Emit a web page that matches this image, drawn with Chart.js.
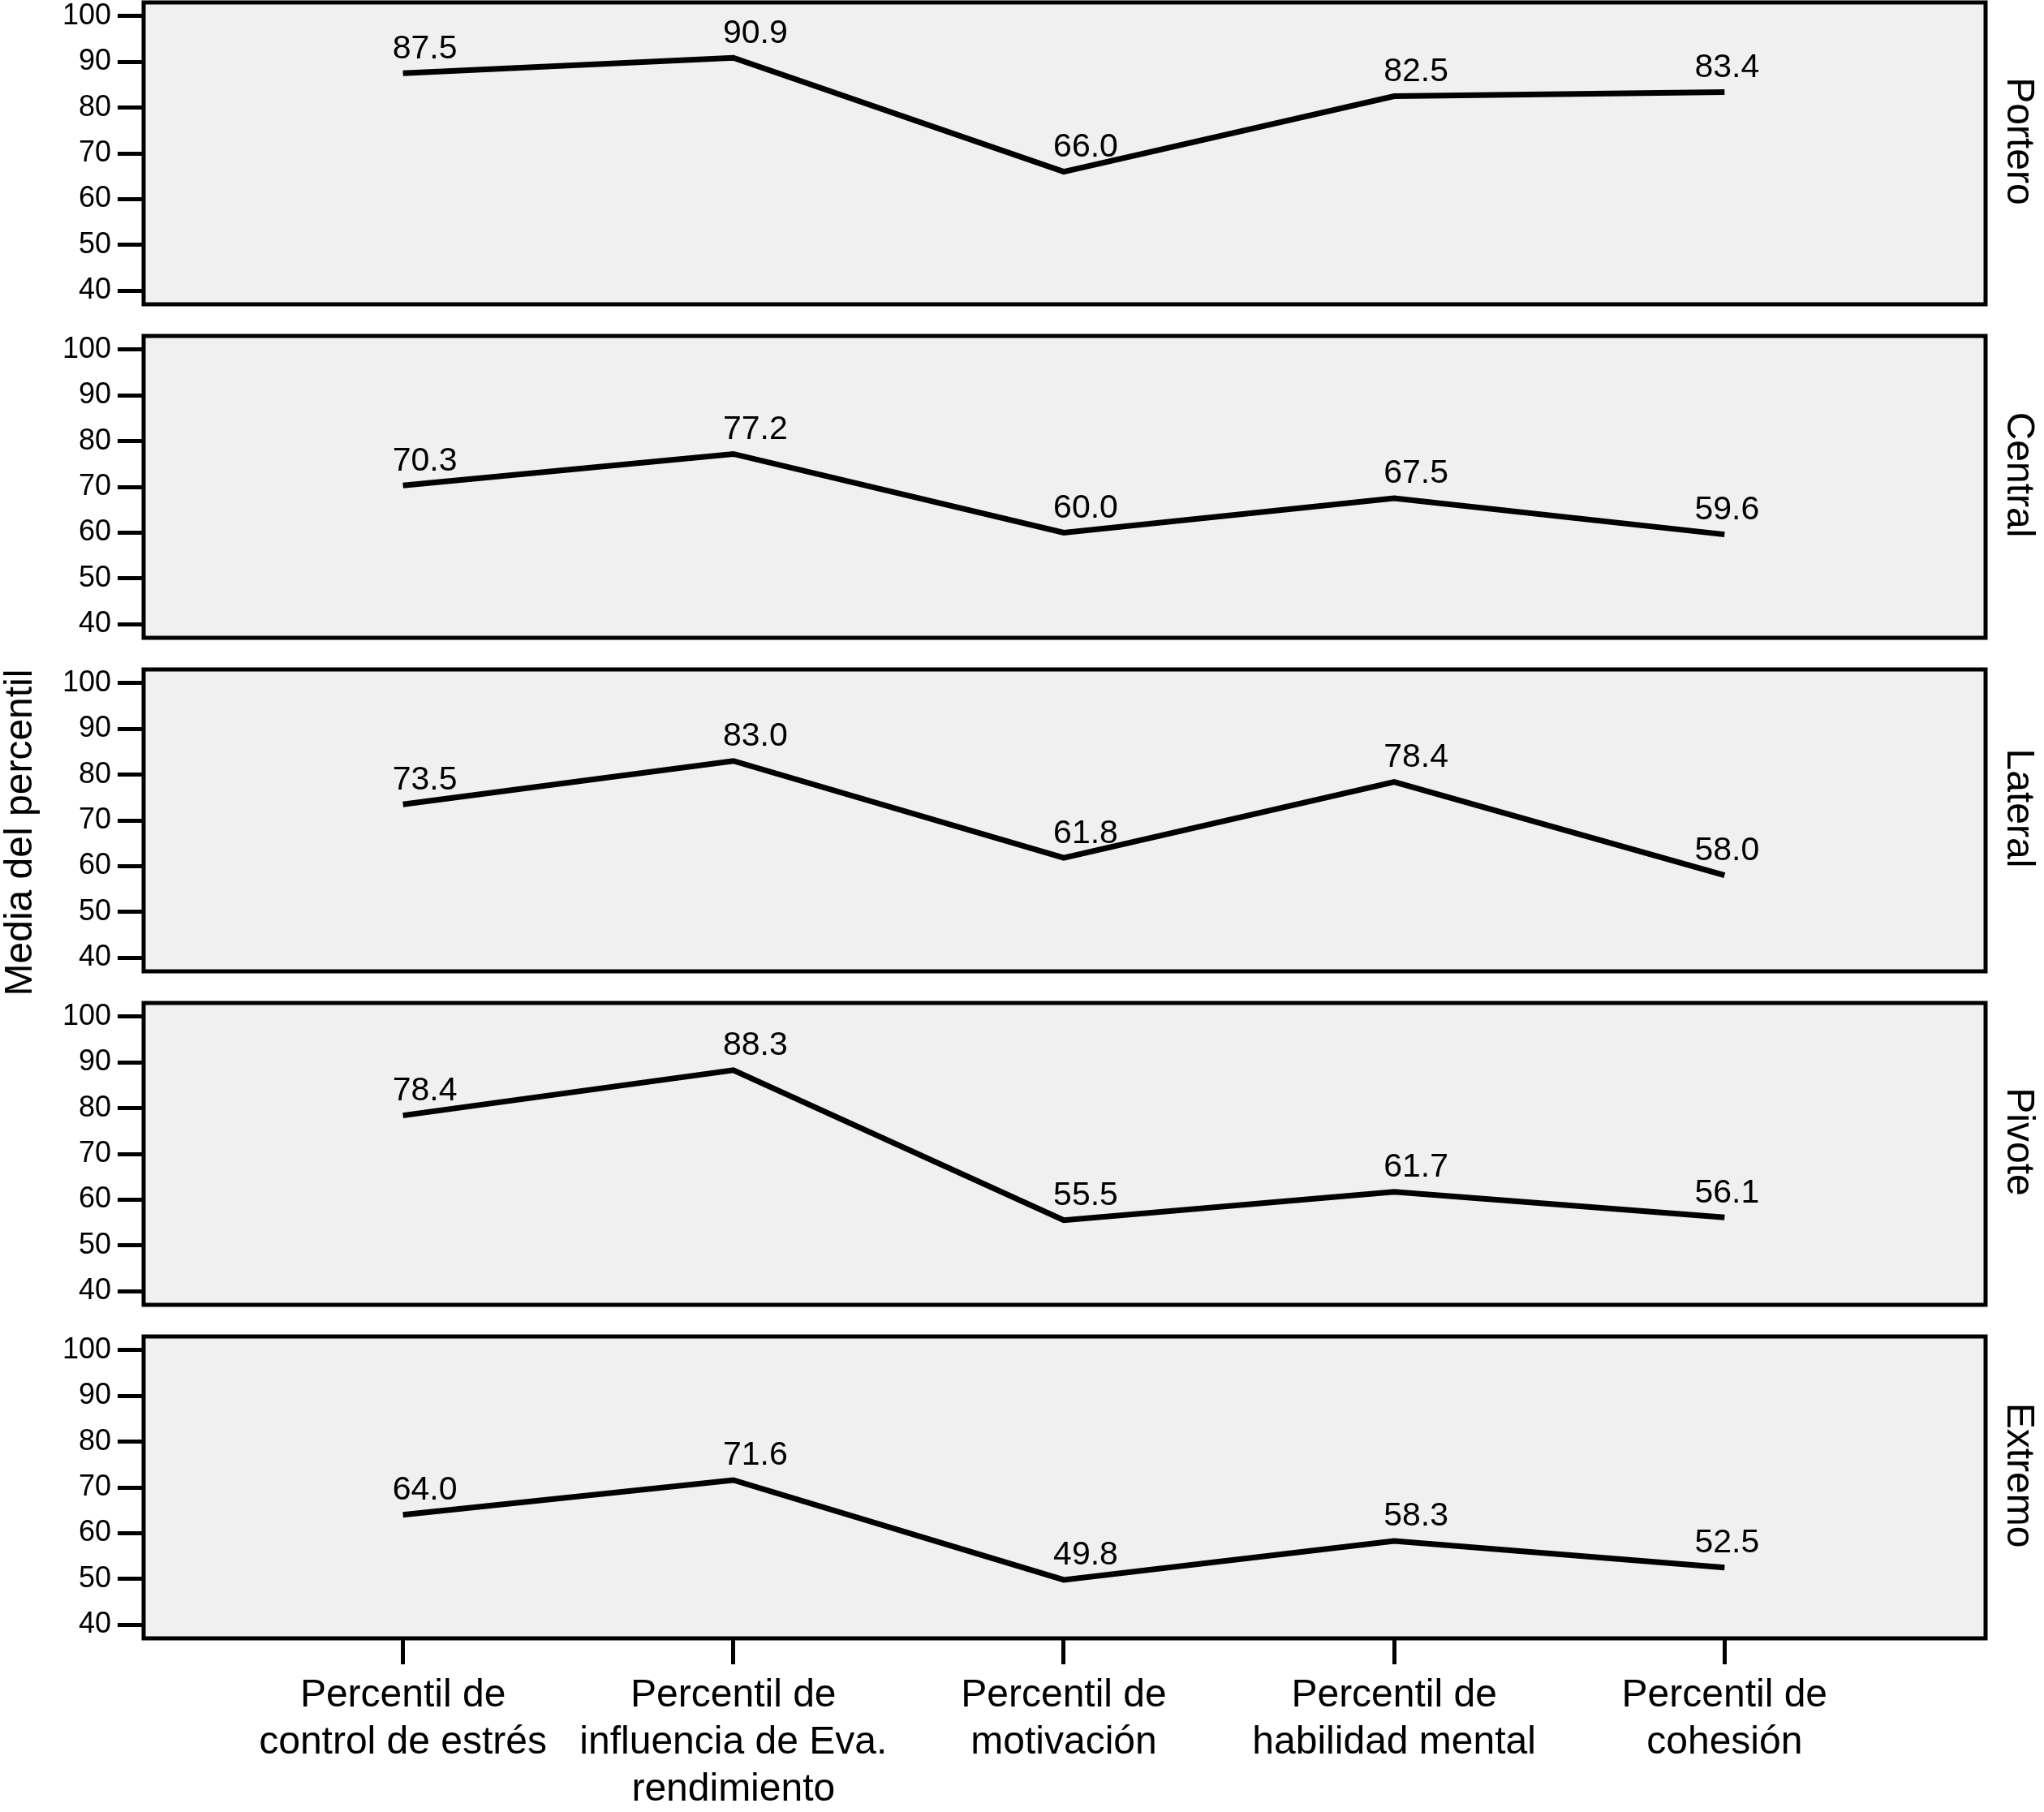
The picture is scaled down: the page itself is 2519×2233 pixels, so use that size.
<!DOCTYPE html>
<html>
<head>
<meta charset="utf-8">
<script src="https://cdn.jsdelivr.net/npm/chart.js@4.4.1/dist/chart.umd.min.js"></script>
<style>
  body { margin: 0; background: #fff; }
  #wrap { position: relative; width: 2519px; height: 2233px; overflow: hidden; }
  canvas { position: absolute; left: 0; }
</style>
</head>
<body>
<div id="wrap"></div>
<script>
  // categories on the x axis
  const categories = [
    ["Percentil de", "control de estrés"],
    ["Percentil de", "influencia de Eva.", "rendimiento"],
    ["Percentil de", "motivación"],
    ["Percentil de", "habilidad mental"],
    ["Percentil de", "cohesión"]
  ];
  const positions = ["Portero", "Central", "Lateral", "Pivote", "Extremo"];

  // values per position
  const portero = [87.5, 90.9, 66.0, 82.5, 83.4];
  const central = [70.3, 77.2, 60.0, 67.5, 59.6];
  const lateral = [73.5, 83.0, 61.8, 78.4, 58.0];
  const pivote = [78.4, 88.3, 55.5, 61.7, 56.1];
  const extremo = [64.0, 71.6, 49.8, 58.3, 52.5];
  const series = [portero, central, lateral, pivote, extremo];

  const yTicks = [40, 50, 60, 70, 80, 90, 100];
  const yTitle = "Media del percentil";

  const FONT = "'Liberation Sans', Arial, Helvetica, sans-serif";
  const wrap = document.getElementById("wrap");

  // panel geometry
  const panelTop0 = 3;
  const panelStep = 411;
  const panelH = 372;
  const padTop = 40;
  const leftW = 177;
  const rightPad = 72;

  //Panel background, border, side labels, value labels
  const panelPlugin = {
    id: "panel",
    beforeDraw(chart) {
      const a = chart.chartArea;
      const c = chart.ctx;
      c.save();
      c.fillStyle = "#f0f0f0";
      c.fillRect(a.left, a.top, a.right - a.left, a.bottom - a.top);
      c.restore();
    },
    afterDatasetsDraw(chart) {
      const a = chart.chartArea;
      const c = chart.ctx;
      const o = chart.options.plugins.panel;
      c.save();
      // values over the points
      const meta = chart.getDatasetMeta(0);
      c.fillStyle = "#000";
      c.font = "41px " + FONT;
      c.textAlign = "center";
      c.textBaseline = "middle";
      meta.data.forEach((pt, i) => {
        const dx = i === meta.data.length - 1 ? 3 : 27;
        c.fillText(chart.data.datasets[0].data[i].y.toFixed(1), pt.x + dx, pt.y - 30);
      });
      // border
      c.strokeStyle = "#000";
      c.lineWidth = 5;
      c.strokeRect(a.left, a.top, a.right - a.left, a.bottom - a.top);
      // side label
      c.font = "48px " + FONT;
      c.translate(2487, (a.top + a.bottom) / 2 - 15);
      c.rotate(Math.PI / 2);
      c.fillText(o.label, 0, 0);
      c.restore();
      // y title on the middle panel
      if (o.title) {
        c.save();
        c.font = "48px " + FONT;
        c.fillStyle = "#000";
        c.textAlign = "center";
        c.textBaseline = "middle";
        c.translate(26, (a.top + a.bottom) / 2 + 15);
        c.rotate(-Math.PI / 2);
        c.fillText(o.title, 0, 0);
        c.restore();
      }
    }
  };

  function makePanel(idx) {
    const last = idx === series.length - 1;
    const canvas = document.createElement("canvas");
    const top = panelTop0 + idx * panelStep - padTop;
    const h = last ? 2233 - top : padTop + panelH + 36;
    canvas.width = 2519;
    canvas.height = h;
    canvas.style.width = "2519px";
    canvas.style.height = h + "px";
    canvas.style.top = top + "px";
    wrap.appendChild(canvas);

    const points = series[idx].map((v, i) => ({ x: i, y: v }));

    return new Chart(canvas.getContext("2d"), {
      type: "line",
      data: {
        datasets: [{
          data: points,
          borderColor: "#000",
          borderWidth: 7,
          pointRadius: 0,
          tension: 0,
          fill: false
        }]
      },
      options: {
        responsive: false,
        animation: false,
        devicePixelRatio: 1,
        layout: { padding: { top: padTop, left: 0, right: rightPad, bottom: 0 } },
        plugins: {
          legend: { display: false },
          tooltip: { enabled: false },
          panel: { label: positions[idx], title: idx === 2 ? yTitle : null }
        },
        scales: {
          x: {
            type: "linear",
            min: -0.785,
            max: 4.79,
            afterBuildTicks: s => { s.ticks = categories.map((c, i) => ({ value: i })); },
            afterFit: s => { s.height = h - padTop - panelH; },
            border: { display: false },
            grid: {
              display: last,
              drawOnChartArea: false,
              drawTicks: true,
              tickLength: 32,
              tickWidth: 5,
              color: "#000"
            },
            ticks: {
              display: last,
              autoSkip: false,
              maxRotation: 0,
              padding: 10,
              color: "#000",
              font: { family: FONT, size: 48, lineHeight: 1.21 },
              callback: v => categories[v]
            }
          },
          y: {
            min: 37,
            max: 103,
            afterBuildTicks: s => { s.ticks = yTicks.map(v => ({ value: v })); },
            afterFit: s => { s.width = leftW; },
            border: { display: false },
            grid: {
              drawOnChartArea: false,
              drawTicks: true,
              tickLength: 32,
              tickWidth: 5,
              color: "#000"
            },
            ticks: {
              padding: 8,
              color: "#000",
              font: { family: FONT, size: 36 }
            }
          }
        }
      },
      plugins: [panelPlugin]
    });
  }

  //Init
  series.forEach((s, i) => makePanel(i));
</script>
</body>
</html>
